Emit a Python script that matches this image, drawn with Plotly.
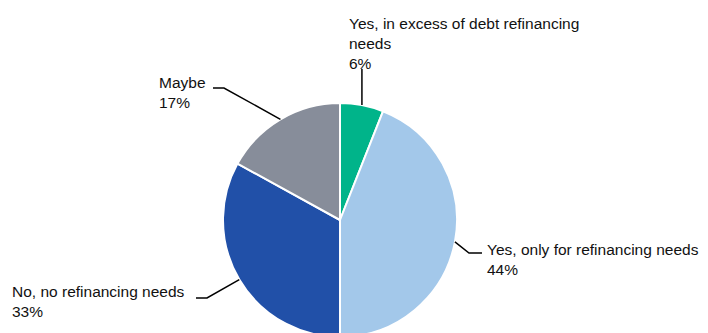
import math
import plotly.graph_objects as go

# ---- data ----
labels = ["Yes, in excess of debt refinancing needs", "Yes, only for refinancing needs",
          "No, no refinancing needs", "Maybe"]
label_text = ["Yes, in excess of debt refinancing<br>needs", "Yes, only for refinancing needs",
              "No, no refinancing needs", "Maybe"]
values = [6, 44, 33, 17]
colors = ["#00b48a", "#a3c8ea", "#2150a8", "#878d9a"]

# ---- layout constants (pixels) ----
W, H = 708, 337
CX, CY, R = 340, 220, 117
FS = 15.5
# label top-left (px) and leader elbow points (px) per slice
label_pos = [(347, 13), (485, 239), (10, 281), (157, 72)]
elbows = [
    [("edge_x", 69)],
    [(469, 253), (482, 253)],
    [(207, 298), (196, 298)],
    [(224, 88), (213, 88)],
]

def px(x):
    return x / W

def py(y):
    return (H - y) / H

fig = go.Figure()
fig.add_trace(go.Pie(
    labels=labels, values=values, sort=False, direction="clockwise", rotation=0,
    marker=dict(colors=colors, line=dict(color="white", width=2)),
    textinfo="none", hoverinfo="label+percent", showlegend=False,
    domain=dict(x=[px(CX - R), px(CX + R)], y=[py(CY + R), py(CY - R)]),
))

total = sum(values)
cum = 0
annotations = []
shapes = []
for i, v in enumerate(values):
    mid = 2 * math.pi * (cum + v / 2) / total
    cum += v
    ex = CX + R * math.sin(mid)
    ey = CY - R * math.cos(mid)
    pts = [(ex, ey)]
    for (a, b) in elbows[i]:
        pts.append((ex if a == "edge_x" else a, b))
    path = "M " + " L ".join(f"{px(x):.5f},{py(y):.5f}" for x, y in pts)
    shapes.append(dict(type="path", path=path, xref="paper", yref="paper",
                       line=dict(color="black", width=1.5)))
    pct = round(100 * v / total)
    lx, ly = label_pos[i]
    annotations.append(dict(
        text=f"{label_text[i]}<br>{pct}%", x=px(lx), y=py(ly), xref="paper", yref="paper",
        xanchor="left", yanchor="top", align="left", showarrow=False,
        font=dict(family="Liberation Sans, Arial, sans-serif", size=FS, color="#111111"),
    ))

fig.update_layout(
    width=W, height=H, margin=dict(l=0, r=0, t=0, b=0),
    paper_bgcolor="white", plot_bgcolor="white",
    annotations=annotations, shapes=shapes,
)

fig.write_html("out.html", config={"displayModeBar": False},
               post_script="document.documentElement.style.overflow='hidden';document.body.style.overflow='hidden';document.body.style.margin='0';")
